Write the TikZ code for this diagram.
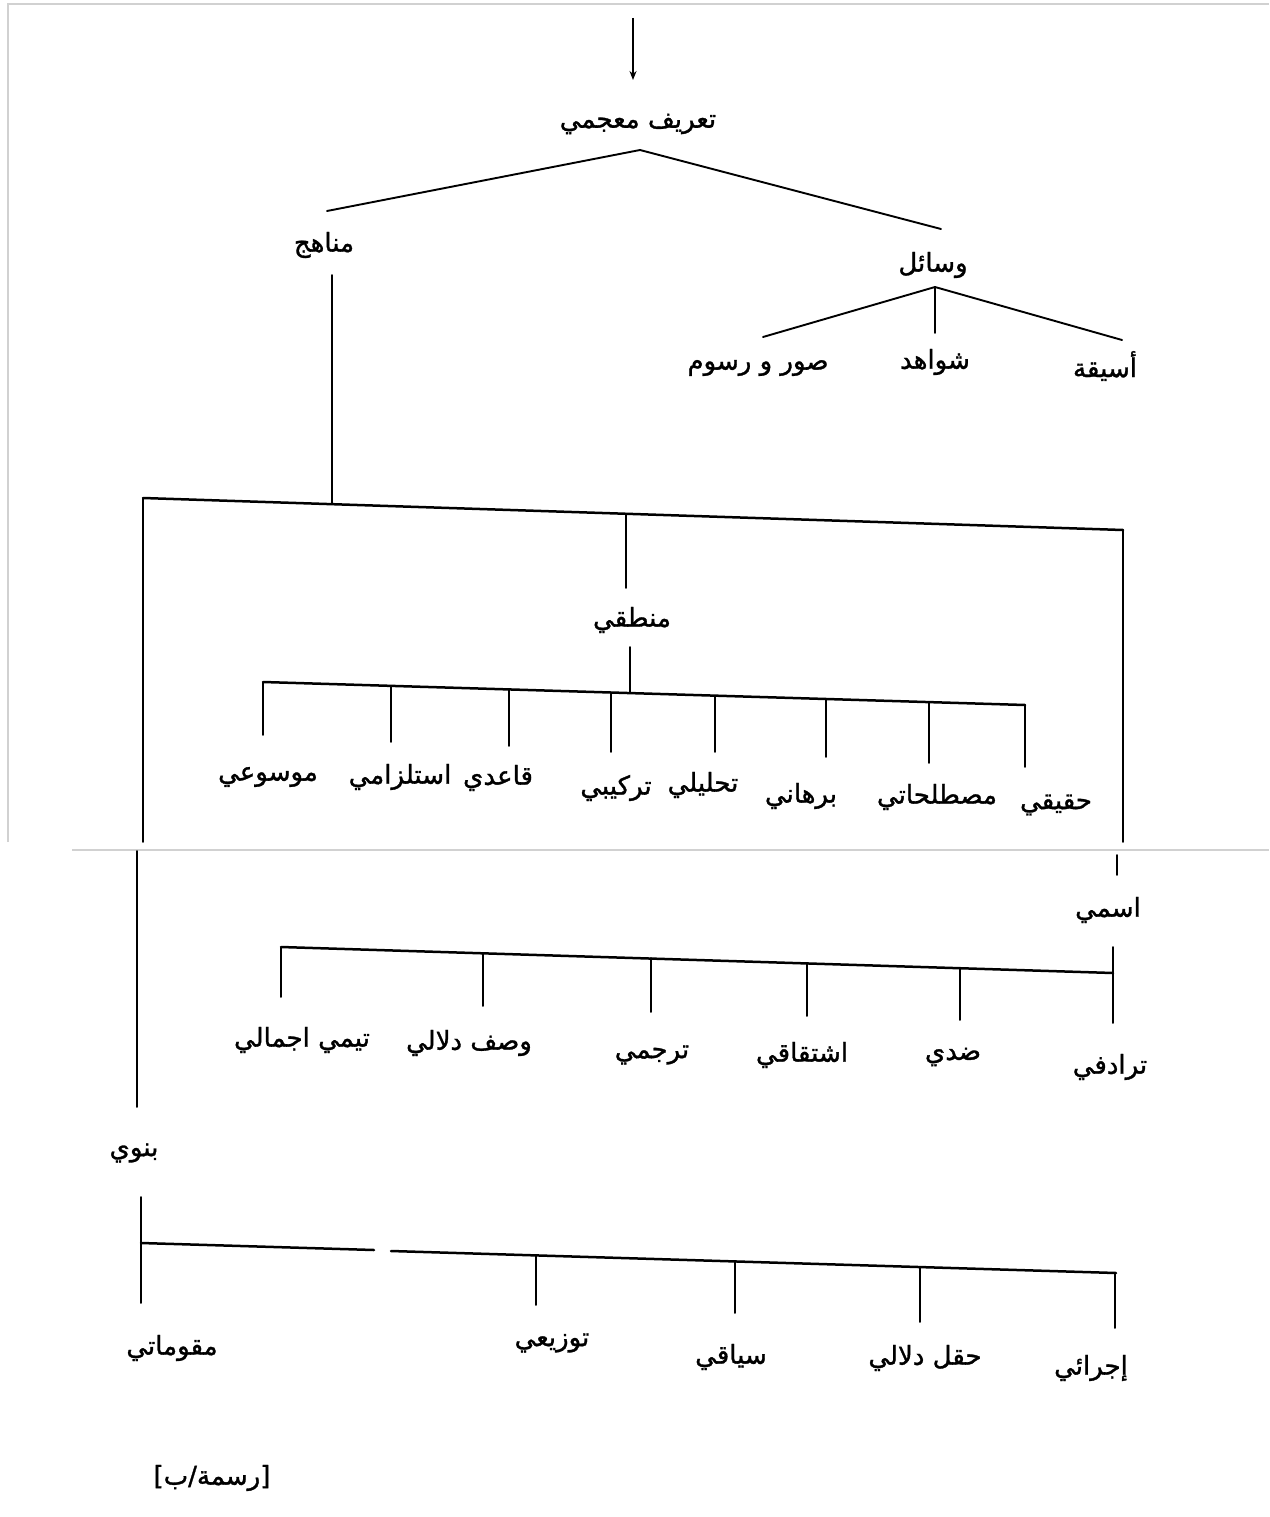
\documentclass[tikz,border=0pt]{standalone}
\usepackage{fontspec}
\newfontfamily\arabicfont[Script=Arabic,FakeBold=1.2]{DejaVu Sans}
\newfontfamily\bracketfont[FakeBold=1.2]{DejaVu Sans}
\TeXXeTstate=1
\usetikzlibrary{arrows.meta}
\newcommand\AR[1]{{\arabicfont\beginR #1\endR}}
\begin{document}
\begin{tikzpicture}[x=1pt,y=-1pt,
  lbl/.style={font=\arabicfont\fontsize{26}{30}\selectfont, inner sep=0pt, anchor=center},
  captionlbl/.style={font=\bracketfont\fontsize{26}{30}\selectfont, inner sep=0pt, anchor=center},
  ln/.style={line width=1.9pt, black, line cap=round},
  bar/.style={line width=2.5pt, black, line cap=round},
  scanframe/.style={line width=1.5pt, black!18}]
\useasboundingbox (0,0) rectangle (1269,1517);
\fill[white] (0,0) rectangle (1269,1517);
% scan frame artifacts
\coordinate (f1) at (8,4); \coordinate (f2) at (1269,4); \coordinate (f3) at (8,842);
\coordinate (f4) at (72,850); \coordinate (f5) at (1269,850);
\draw[scanframe] (f3) -- (f1) -- (f2);
\draw[scanframe] (f4) -- (f5);

% ---------- labels ----------
\node[lbl] (root) at (638,124) {\AR{تعريف معجمي}};
\node[lbl] (manahij) at (324,245) {\AR{مناهج}};
\node[lbl] (wasail) at (933,265) {\AR{وسائل}};
\node[lbl] (suwar) at (758,368) {\AR{صور و رسوم}};
\node[lbl] (shawahid) at (935,362) {\AR{شواهد}};
\node[lbl] (asyiqa) at (1105,366) {\AR{أسيقة}};
\node[lbl] (mantiqi) at (632,620) {\AR{منطقي}};
\node[lbl] (ism) at (1108,910) {\AR{اسمي}};
\node[lbl] (bunawi) at (134,1153) {\AR{بنوي}};
\node[captionlbl] (caption) at (212,1478) {[\AR{رسمة/ب}]};

% logic children
\node[lbl] (m1) at (268,777) {\AR{موسوعي}};
\node[lbl] (m2) at (400,777) {\AR{استلزامي}};
\node[lbl] (m3) at (498,778) {\AR{قاعدي}};
\node[lbl] (m4) at (616,788) {\AR{تركيبي}};
\node[lbl] (m5) at (703,785) {\AR{تحليلي}};
\node[lbl] (m6) at (801,796) {\AR{برهاني}};
\node[lbl] (m7) at (937,797) {\AR{مصطلحاتي}};
\node[lbl] (m8) at (1056,805) {\AR{حقيقي}};

% ism children
\node[lbl] (i1) at (302,1040) {\AR{تيمي اجمالي}};
\node[lbl] (i2) at (469,1043) {\AR{وصف دلالي}};
\node[lbl] (i3) at (652,1055) {\AR{ترجمي}};
\node[lbl] (i4) at (802,1055) {\AR{اشتقاقي}};
\node[lbl] (i5) at (953,1057) {\AR{ضدي}};
\node[lbl] (i6) at (1110,1067) {\AR{ترادفي}};

% bunawi children
\node[lbl] (b1) at (172,1348) {\AR{مقوماتي}};
\node[lbl] (b2) at (552,1343) {\AR{توزيعي}};
\node[lbl] (b3) at (731,1357) {\AR{سياقي}};
\node[lbl] (b4) at (925,1358) {\AR{حقل دلالي}};
\node[lbl] (b5) at (1091,1368) {\AR{إجرائي}};

% ---------- top ----------
\coordinate (arrTop) at (633,18);
\coordinate (arrEnd) at (633,80);
\draw[line width=1.5pt, -{Stealth[length=9pt,width=7pt]}] (arrTop) -- (arrEnd);

\coordinate (rApex) at (640,150);
\coordinate (rL) at (327,211);
\coordinate (rR) at (941,229);
\draw[ln] (rL) -- (rApex) -- (rR);

\coordinate (wApex) at (935,287);
\coordinate (wL) at (763,337);
\coordinate (wM) at (935,333);
\coordinate (wR) at (1122,340);
\draw[ln] (wL) -- (wApex) -- (wR);
\draw[ln] (wApex) -- (wM);

% ---------- big bracket ----------
\coordinate (BL) at (143,498);
\coordinate (BR) at (1123,530);
\coordinate (mTop) at (332,275);
\coordinate (mBot) at (332,504);
\draw[ln] (mTop) -- (mBot);
\draw[bar] (BL) -- (BR);
\coordinate (BLcut) at (143,842);
\coordinate (BLlow) at (137,851);
\coordinate (BLend) at (137,1107);
\draw[ln] (BL) -- (BLcut);
\draw[ln] (BLlow) -- (BLend);
\coordinate (BRcut) at (1123,842);
\coordinate (BRlow) at (1117,855);
\coordinate (BRend) at (1117,875);
\draw[ln] (BR) -- (BRcut);
\draw[ln] (BRlow) -- (BRend);
\coordinate (midTop) at (626,514);
\coordinate (midBot) at (626,588);
\draw[ln] (midTop) -- (midBot);

% ---------- logic bracket ----------
\coordinate (LL) at (263,682);
\coordinate (LR) at (1025,705);
\coordinate (mtTop) at (630,647);
\coordinate (mtBot) at (630,693);
\draw[ln] (mtTop) -- (mtBot);
\draw[bar] (LL) -- (LR);
\foreach \x/\ya/\yb [count=\i] in {263/682/735, 391/686/742, 509/689/746, 611/693/752, 715/696/752, 826/699/757, 929/702/763, 1025/705/767}{
  \coordinate (lt\i) at (\x,\ya);
  \coordinate (lb\i) at (\x,\yb);
  \draw[ln] (lt\i) -- (lb\i);
}

% ---------- ism bracket ----------
\coordinate (IL) at (281,947);
\coordinate (IR) at (1113,973);
\draw[bar] (IL) -- (IR);
\foreach \x/\ya/\yb [count=\i] in {281/947/997, 483/953/1006, 651/958/1012, 807/963/1016, 960/968/1020, 1113/947/1023}{
  \coordinate (it\i) at (\x,\ya);
  \coordinate (ib\i) at (\x,\yb);
  \draw[ln] (it\i) -- (ib\i);
}

% ---------- bunawi bracket ----------
\coordinate (UL) at (141,1243);
\coordinate (gapA) at (374,1250);
\coordinate (gapB) at (391,1251);
\coordinate (UR) at (1116,1273);
\draw[bar] (UL) -- (gapA);
\draw[bar] (gapB) -- (UR);
\coordinate (uTop) at (141,1197);
\coordinate (uBot) at (141,1303);
\draw[ln] (uTop) -- (uBot);
\foreach \x/\ya/\yb [count=\i] in {536/1255/1305, 735/1261/1313, 920/1267/1322, 1115/1273/1328}{
  \coordinate (ut\i) at (\x,\ya);
  \coordinate (ub\i) at (\x,\yb);
  \draw[ln] (ut\i) -- (ub\i);
}
\end{tikzpicture}
\end{document}
